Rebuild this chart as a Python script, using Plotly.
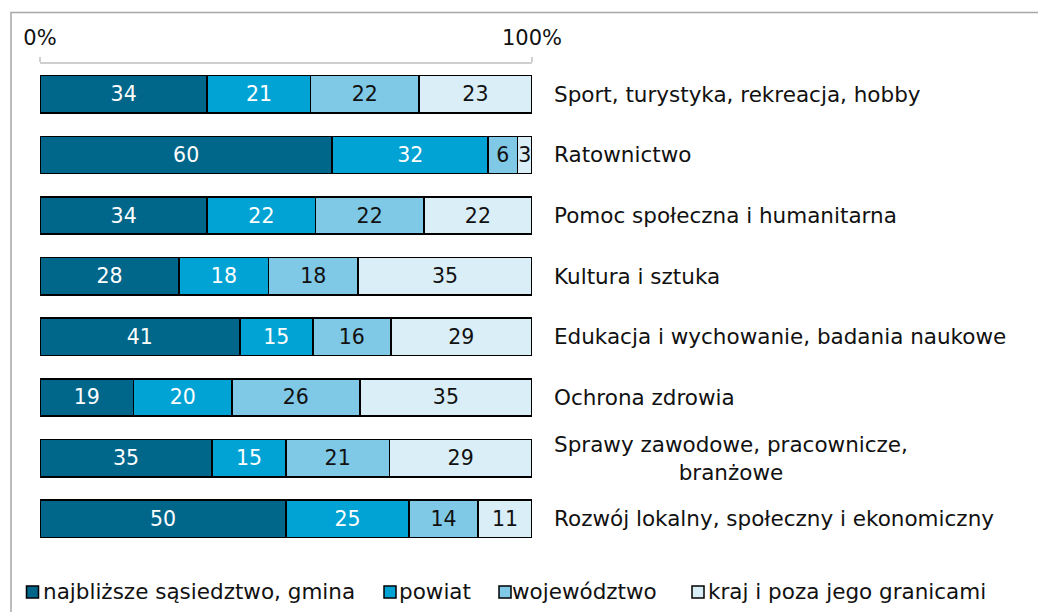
import plotly.graph_objects as go

categories = [
    "Sport, turystyka, rekreacja, hobby",
    "Ratownictwo",
    "Pomoc społeczna i humanitarna",
    "Kultura i sztuka",
    "Edukacja i wychowanie, badania naukowe",
    "Ochrona zdrowia",
    "Sprawy zawodowe, pracownicze,<br>branżowe",
    "Rozwój lokalny, społeczny i ekonomiczny",
]
series_names = [
    "najbliższe sąsiedztwo, gmina",
    "powiat",
    "województwo",
    "kraj i poza jego granicami",
]
gmina = [34, 60, 34, 28, 41, 19, 35, 50]
powiat = [21, 32, 22, 18, 15, 20, 15, 25]
wojewodztwo = [22, 6, 22, 18, 16, 26, 21, 14]
kraj = [23, 3, 22, 35, 29, 35, 29, 11]
tick_vals = [0, 100]
tick_text = ["0%", "100%"]

colors = ["#00668a", "#00a3d4", "#7fc8e6", "#daeef8"]
text_colors = ["white", "white", "#111111", "#111111"]

series = [gmina, powiat, wojewodztwo, kraj]
totals = [sum(v) for v in zip(*series)]

# page body adds an 8px margin; work in screen pixel coordinates
OFF = 8
W, H = 1046 - OFF, 612 - OFF
PL, PR, PT, PB = 40, 532, 63.5, 549.5      # plot area in screen px
L, T = PL - OFF, PT - OFF
R, B = W - (PR - OFF), H - (PB - OFF)
pw, ph = PR - PL, PB - PT


def px_x(px):
    return (px - PL) / pw


def px_y(py):
    return (PB - py) / ph


FONT = "DejaVu Sans, Verdana, sans-serif"

fig = go.Figure()
for name, vals, col, tcol in zip(series_names, series, colors, text_colors):
    fig.add_trace(go.Bar(
        y=categories,
        x=[v / t * 100 for v, t in zip(vals, totals)],
        orientation="h",
        name=name,
        text=[str(v) for v in vals],
        textposition="inside",
        insidetextanchor="middle",
        textangle=0,
        textfont=dict(family=FONT, size=20.5, color=tcol),
        marker=dict(color=col, line=dict(color="#000000", width=1.6)),
        hoverinfo="skip",
        showlegend=False,
    ))

annotations = []
for c in categories:
    annotations.append(dict(
        x=px_x(551.5), xref="paper", y=c, yref="y",
        text=c, showarrow=False, xanchor="left", align="center",
        font=dict(family=FONT, size=21.5, color="#111111"),
    ))

shapes = [
    dict(type="rect", xref="paper", yref="paper",
         x0=px_x(11), x1=px_x(1300), y0=px_y(800), y1=px_y(12),
         line=dict(color="#a6a6a6", width=1.5), fillcolor="rgba(0,0,0,0)", layer="below"),
]

# legend drawn below the plot
leg_marker_px = [32.5, 390, 505, 698]
leg_text_px = [44, 400, 513, 709]
leg_py = 592.5
for name, col, mx, tx in zip(series_names, colors, leg_marker_px, leg_text_px):
    shapes.append(dict(type="rect", xref="paper", yref="paper",
                       x0=px_x(mx - 6), x1=px_x(mx + 6),
                       y0=px_y(leg_py + 6), y1=px_y(leg_py - 6),
                       fillcolor=col, line=dict(color="#000000", width=1.5)))
    annotations.append(dict(
        x=px_x(tx - 3), xref="paper", y=px_y(leg_py), yref="paper",
        text=name, showarrow=False, xanchor="left", yanchor="middle",
        font=dict(family=FONT, size=21.5, color="#111111"),
    ))

fig.update_layout(
    width=W, height=H,
    margin=dict(l=L, r=R, t=T, b=B, pad=0),
    barmode="stack",
    bargap=0.385,
    plot_bgcolor="white",
    paper_bgcolor="white",
    showlegend=False,
    uniformtext=dict(minsize=20.5, mode="show"),
    annotations=annotations,
    shapes=shapes,
    xaxis=dict(
        range=[0, 100], side="top",
        tickvals=tick_vals, ticktext=tick_text,
        showgrid=True, gridcolor="#cfcfcf", gridwidth=1.5,
        showline=True, linecolor="#cfcfcf", linewidth=1.5,
        ticks="outside", ticklen=5, tickcolor="#cfcfcf", tickwidth=1.5,
        ticklabelstandoff=4,
        tickfont=dict(family=FONT, size=21, color="#111111"),
        zeroline=False, fixedrange=True,
    ),
    yaxis=dict(
        categoryorder="array", categoryarray=categories,
        autorange="reversed", showticklabels=False,
        showgrid=False, zeroline=False, showline=False, ticks="",
    ),
)

fig.write_html("out.html")
